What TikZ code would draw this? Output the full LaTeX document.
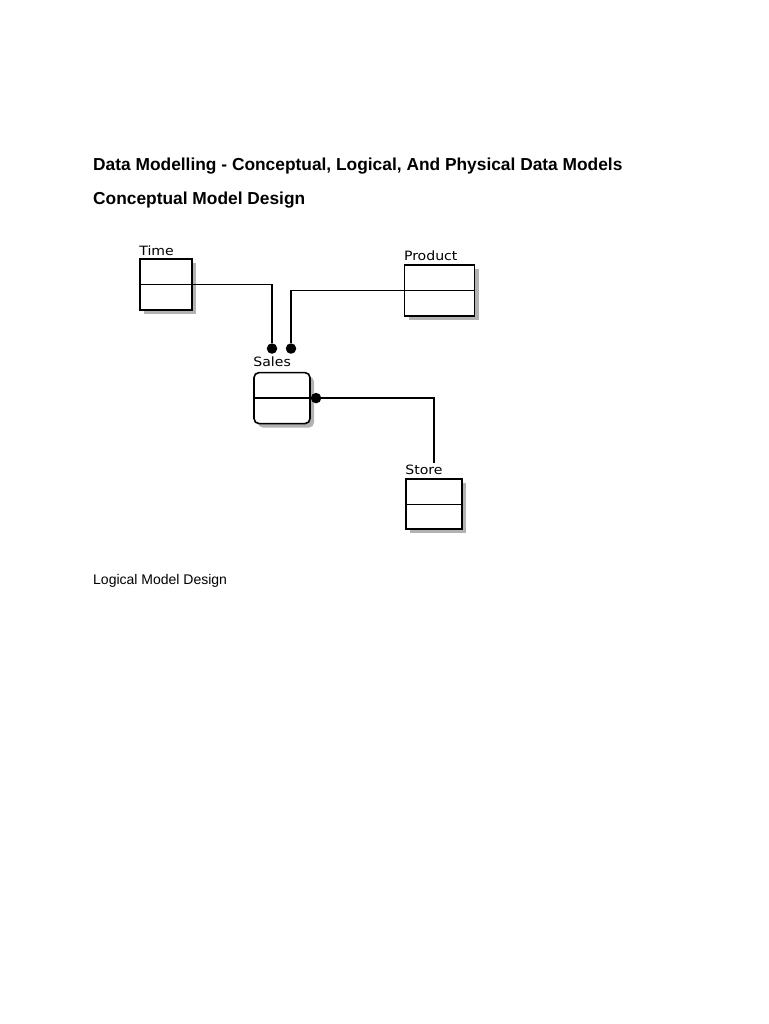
\documentclass[tikz,border=0pt]{standalone}
\usepackage{fontspec}
\setmainfont{Liberation Sans}
\newfontfamily\boxfont[FakeStretch=1.1]{DejaVu Sans}
\usepackage{tikz}
\usetikzlibrary{positioning,shadows}

\begin{document}
\begin{tikzpicture}[
  x=1pt, y=-1pt,
  node distance=20pt,
  entity/.style={rectangle, draw=black, line width=1.6pt, fill=white,
                 minimum width=56pt, minimum height=51pt, inner sep=0pt,
                 drop shadow={shadow xshift=4pt, shadow yshift=-4pt, fill=gray!60, opacity=1}},
  lbl/.style={font=\boxfont\fontsize{12.8}{14}\selectfont, inner sep=0pt, anchor=base west},
  heading/.style={font=\fontsize{17.35}{20}\bfseries\selectfont, inner sep=0pt, anchor=base west},
  plain/.style={font=\fontsize{14}{16}\selectfont, inner sep=0pt, anchor=base west},
  link/.style={line width=1.3pt},
  dot/.style={circle, fill=black, minimum size=10.5pt, inner sep=0pt, outer sep=0pt}
]
\useasboundingbox[fill=white] (0,0) rectangle (768,1024);

% --- Headings ---
\node[heading] (title)   at (93,170.7) {Data Modelling - Conceptual, Logical, And Physical Data Models};
\node[heading] (concept) at (93,205)   {Conceptual Model Design};
\node[plain]   (logical) at (93,584)   {Logical Model Design};

% --- Entities ---
\node[entity, minimum width=52pt]                          (time)  at (166,284.5) {};
\node[entity, minimum width=70pt, right=211pt of time, yshift=-6pt] (prod) {};
\node[entity, rounded corners=5pt, below=61pt of time, xshift=116pt] (sales) {};
\node[entity, minimum height=50pt, below=54pt of sales, xshift=152pt] (store) {};

\foreach \e in {time,prod,store}
  \draw[line width=1.2pt] (\e.west) -- (\e.east);
\draw[line width=1.6pt] (sales.west) -- (sales.east);

% --- Labels ---
\node[lbl] (timelbl)  at ([yshift=3pt]time.north west)  {Time};
\node[lbl] (prodlbl)  at ([yshift=4pt]prod.north west)  {Product};
\node[lbl] (saleslbl) at ([yshift=5pt]sales.north west) {Sales};
\node[lbl] (storelbl) at ([yshift=4pt]store.north west) {Store};

% --- Relationships ---
\node[dot, above=18pt of sales, xshift=-10pt] (tdot) {};
\node[dot, above=18pt of sales, xshift=9pt]   (pdot) {};
\node[dot, right=0pt of sales]                (sdot) {};

\draw[link] (time.east) -| (tdot);
\draw[link] (prod.west) -| (pdot);
\draw[link] (sdot) -| ([yshift=2pt]storelbl.north -| store.north);

\end{tikzpicture}
\end{document}
